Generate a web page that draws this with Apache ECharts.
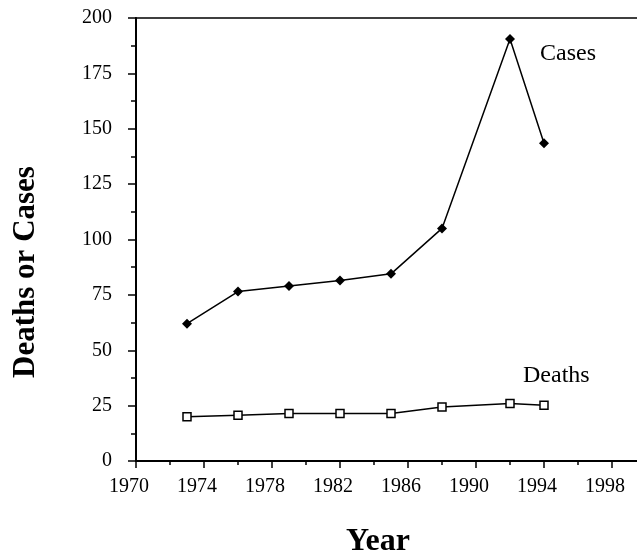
<!DOCTYPE html>
<html>
<head>
<meta charset="utf-8">
<script src="https://cdn.jsdelivr.net/npm/echarts@6/dist/echarts.min.js"></script>
<style>
  html, body { margin: 0; padding: 0; background: #fff; }
  #chart { width: 637px; height: 554px; }
</style>
</head>
<body>
<div id="chart"></div>
<script>
var years = [1973, 1976, 1979, 1982, 1985, 1988, 1992, 1994];
var cases = [62, 76.5, 79, 81.5, 84.5, 105, 190.5, 143.5];
var deaths = [20, 20.7, 21.4, 21.4, 21.4, 24.4, 26, 25.2];

var serif = '"Liberation Serif", "DejaVu Serif", serif';

function pairs(vals) {
	return years.map(function (y, i) { return [y, vals[i]]; });
}

var myChart = echarts.init(document.getElementById('chart'));
var option = {
	animation: false,
	backgroundColor: '#fff',
	grid: {
		left: 136,
		width: 510,
		top: 18,
		bottom: 93,
		outerBoundsMode: 'none',
		containLabel: false,
		show: true,
		borderColor: '#000',
		borderWidth: 1.5
	},
	xAxis: {
		type: 'value',
		min: 1970,
		max: 2000,
		interval: 4,
		axisLine: { lineStyle: { color: '#000', width: 2 } },
		axisTick: { inside: false, length: 7, lineStyle: { color: '#000', width: 1.5 } },
		minorTick: { show: true, splitNumber: 2, length: 4, lineStyle: { color: '#000', width: 1.5 } },
		splitLine: { show: false },
		axisLabel: {
			showMaxLabel: false,
			margin: 16,
			padding: [0, 14, 0, 0],
			color: '#000',
			fontFamily: serif,
			fontSize: 20,
			formatter: function (v) { return String(v); }
		}
	},
	yAxis: {
		type: 'value',
		min: 0,
		max: 200,
		interval: 25,
		axisLine: { show: true, lineStyle: { color: '#000', width: 2 } },
		axisTick: { show: true, length: 8, lineStyle: { color: '#000', width: 1.5 } },
		minorTick: { show: true, splitNumber: 2, length: 5, lineStyle: { color: '#000', width: 1.5 } },
		splitLine: { show: false },
		axisLabel: {
			margin: 24,
			padding: [4, 0, 0, 0],
			color: '#000',
			fontFamily: serif,
			fontSize: 20
		}
	},
	graphic: [
		{
			type: 'text', left: 540, top: 42,
			style: { text: 'Cases', fontFamily: serif, fontSize: 24, fill: '#000' }
		},
		{
			type: 'text', left: 523, top: 364,
			style: { text: 'Deaths', fontFamily: serif, fontSize: 24, fill: '#000' }
		},
		{
			type: 'text', left: 346, top: 526,
			style: { text: 'Year', fontFamily: serif, fontSize: 32, fontWeight: 'bold', fill: '#000' }
		},
		{
			type: 'text', x: 26, y: 272, rotation: Math.PI / 2,
			style: {
				text: 'Deaths or Cases', fontFamily: serif, fontSize: 31, fontWeight: 'bold',
				fill: '#000', align: 'center', verticalAlign: 'middle'
			}
		}
	],
	series: [
		{
			name: 'Cases',
			type: 'line',
			data: pairs(cases),
			symbol: 'diamond',
			symbolSize: 10,
			itemStyle: { color: '#000' },
			lineStyle: { color: '#000', width: 1.5 }
		},
		{
			name: 'Deaths',
			type: 'line',
			data: pairs(deaths),
			symbol: 'rect',
			symbolSize: 8,
			itemStyle: { color: '#fff', borderColor: '#000', borderWidth: 1.5 },
			lineStyle: { color: '#000', width: 1.5 }
		}
	]
};
myChart.setOption(option);
</script>
</body>
</html>
